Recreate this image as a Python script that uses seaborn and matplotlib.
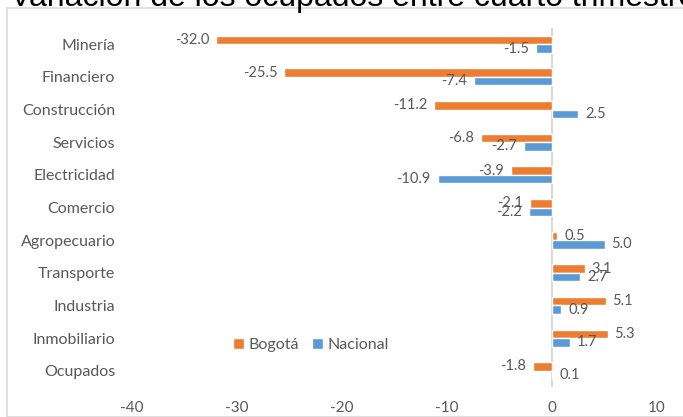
import matplotlib
matplotlib.use("Agg")
import matplotlib.pyplot as plt
import seaborn as sns
import pandas as pd
from matplotlib.patches import Rectangle

categorias = ["Minería", "Financiero", "Construcción", "Servicios", "Electricidad",
              "Comercio", "Agropecuario", "Transporte", "Industria", "Inmobiliario", "Ocupados"]
bogota = [-32.0, -25.5, -11.2, -6.8, -3.9, -2.1, 0.5, 3.1, 5.1, 5.3, -1.8]
nacional = [-1.5, -7.4, 2.5, -2.7, -10.9, -2.2, 5.0, 2.7, 0.9, 1.7, 0.1]
series = ["Bogotá", "Nacional"]
xticks = [-40, -30, -20, -10, 0, 10]
titulo = "Variación de los ocupados entre cuarto trimestre"

df = pd.DataFrame({
    "Sector": categorias * 2,
    "Valor": bogota + nacional,
    "Serie": [series[0]] * len(categorias) + [series[1]] * len(categorias),
})

sns.set_theme(style="white")
plt.rcParams["font.family"] = ["Lato", "DejaVu Sans"]

fig = plt.figure(figsize=(6.83, 4.17), dpi=100)
ax = fig.add_axes([132 / 683, 1 - 387 / 417, 525 / 683, 359 / 417])

pal = {"Bogotá": "#ED7D31", "Nacional": "#5B9BD5"}
sns.barplot(data=df, y="Sector", x="Valor", hue="Serie", palette=pal,
            orient="h", width=0.52, ax=ax, saturation=1, legend=True)

gray = "#595959"
for cont in ax.containers:
    ax.bar_label(cont, fmt="%.1f", padding=5, color=gray, fontsize=10.5)

ax.set_xlim(-40, 10)
ax.set_ylim(10.5, -0.5)
ax.set_xticks(xticks)
ax.set_xticklabels([str(t) for t in xticks])
ax.set_xlabel("")
ax.set_ylabel("")
for s in ax.spines.values():
    s.set_visible(False)
ax.axvline(0, color="#D9D9D9", lw=1.5, zorder=0.5)
ax.tick_params(axis="x", length=0, pad=10, labelsize=11, labelcolor=gray)
ax.tick_params(axis="y", length=0, pad=12, labelsize=11.5, labelcolor=gray)

leg = ax.legend(loc="center", bbox_to_anchor=(311 / 683, 1 - 345 / 417),
                bbox_transform=fig.transFigure, ncol=2, frameon=False,
                fontsize=11.5, handlelength=0.7, handleheight=0.7,
                handletextpad=0.3, columnspacing=0.8)
for t in leg.get_texts():
    t.set_color(gray)

fig.patches.append(Rectangle((7 / 683, 0), 1.2, 1 - 8 / 417, transform=fig.transFigure,
                             fill=False, edgecolor="#D9D9D9", lw=1.2))
fig.text(10 / 683, 1 - 6 / 417, titulo, fontsize=23, color="black",
         family=["Liberation Sans", "DejaVu Sans"], va="baseline", ha="left")

fig.savefig("out.png", dpi=100)
